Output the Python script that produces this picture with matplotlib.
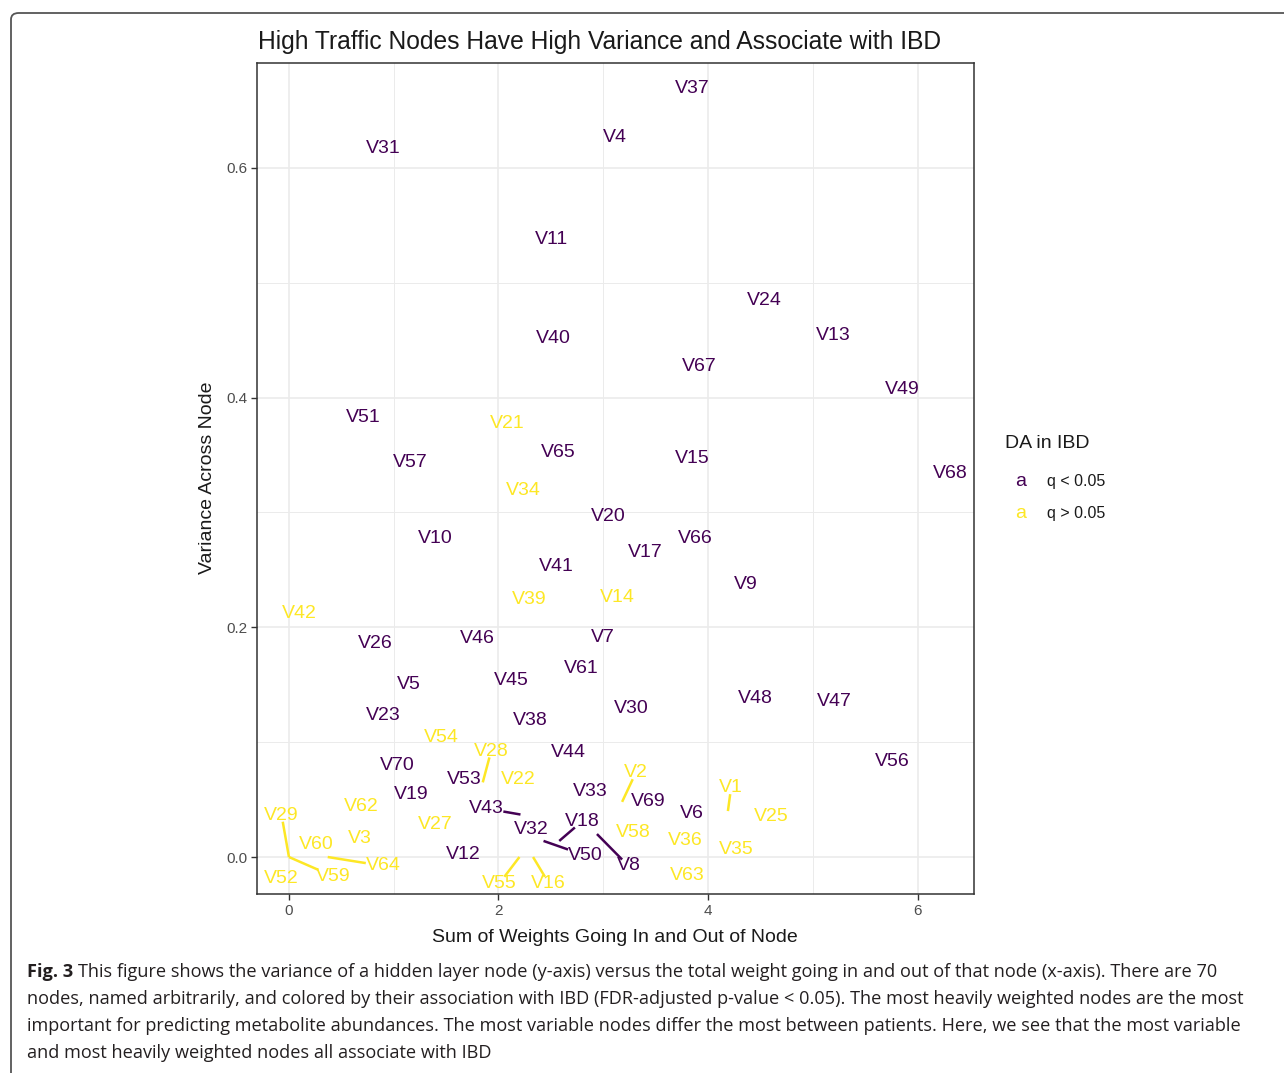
import matplotlib.pyplot as plt
from matplotlib.patches import FancyBboxPatch
from matplotlib.ticker import MultipleLocator

# node labels, label positions (x = summed weight, y = variance), and IBD association
nodes = ["V37", "V4", "V31", "V11", "V24", "V13", "V40", "V67", "V49", "V51",
         "V21", "V65", "V15", "V57", "V68", "V34", "V20", "V10", "V66", "V17",
         "V41", "V9", "V39", "V14", "V42", "V26", "V46", "V7", "V61", "V5",
         "V45", "V48", "V47", "V30", "V23", "V38", "V54", "V28", "V44", "V56",
         "V70", "V22", "V53", "V2", "V1", "V33", "V62", "V69", "V19", "V43",
         "V6", "V25", "V29", "V27", "V18", "V32", "V3", "V58", "V36", "V60",
         "V35", "V12", "V50", "V64", "V8", "V59", "V63", "V52", "V55", "V16"]
weight = [3.85, 3.11, 0.90, 2.51, 4.54, 5.20, 2.52, 3.92, 5.85, 0.71,
          2.08, 2.57, 3.85, 1.16, 6.31, 2.24, 3.05, 1.40, 3.88, 3.40,
          2.55, 4.36, 2.29, 3.13, 0.10, 0.82, 1.80, 3.00, 2.79, 1.14,
          2.12, 4.45, 5.21, 3.27, 0.90, 2.30, 1.45, 1.93, 2.67, 5.76,
          1.03, 2.19, 1.67, 3.31, 4.22, 2.88, 0.69, 3.43, 1.17, 1.88,
          3.85, 4.60, -0.07, 1.40, 2.80, 2.31, 0.68, 3.29, 3.78, 0.26,
          4.27, 1.66, 2.83, 0.90, 3.24, 0.42, 3.80, -0.07, 2.01, 2.48]
variance = [0.671, 0.628, 0.619, 0.539, 0.486, 0.456, 0.453, 0.429, 0.409, 0.384,
            0.379, 0.354, 0.349, 0.345, 0.336, 0.321, 0.298, 0.279, 0.279, 0.267,
            0.255, 0.239, 0.226, 0.228, 0.214, 0.188, 0.192, 0.193, 0.166, 0.152,
            0.155, 0.140, 0.137, 0.131, 0.125, 0.121, 0.106, 0.094, 0.093, 0.085,
            0.081, 0.069, 0.069, 0.075, 0.062, 0.059, 0.046, 0.050, 0.056, 0.044,
            0.040, 0.037, 0.038, 0.030, 0.033, 0.026, 0.018, 0.023, 0.016, 0.013,
            0.008, 0.004, 0.003, -0.006, -0.006, -0.015, -0.014, -0.017, -0.021, -0.021]
not_sig = {"V21", "V34", "V39", "V14", "V42", "V54", "V28", "V22", "V2", "V1",
           "V62", "V25", "V29", "V27", "V3", "V58", "V36", "V60", "V35", "V64",
           "V59", "V63", "V52", "V55", "V16"}

# nodes whose labels were pushed away from the true point (point position)
repel_nodes = ["V29", "V59", "V64", "V28", "V43", "V50", "V18", "V8", "V2", "V1", "V55", "V16"]
repel_x = [0.0, 0.0, 0.37, 1.85, 2.21, 2.43, 2.58, 2.94, 3.18, 4.19, 2.20, 2.33]
repel_y = [0.0, 0.0, 0.0, 0.065, 0.037, 0.014, 0.014, 0.020, 0.048, 0.040, 0.0, 0.0]

PURPLE = "#440154"
YELLOW = "#FDE725"
W, H = 1284, 1073


def fx(px):
    return px / W


def fy(py):
    return 1 - py / H


plt.rcParams["font.family"] = ["Liberation Sans", "DejaVu Sans"]
fig = plt.figure(figsize=(W / 100, H / 100), dpi=100)

# rounded frame around the figure + caption
fig.patches.append(FancyBboxPatch((fx(11), fy(1090)), fx(1300), fy(13) - fy(1090),
                                  boxstyle="round,pad=0,rounding_size=0.006",
                                  transform=fig.transFigure, fill=False,
                                  edgecolor="#555555", linewidth=1.3))

ax = fig.add_axes([fx(257), fy(894), fx(974) - fx(257), fy(63) - fy(894)])
ax.set_xlim(-0.305, 6.539)
ax.set_ylim(-0.0322, 0.6913)
ax.xaxis.set_major_locator(MultipleLocator(2))
ax.xaxis.set_minor_locator(MultipleLocator(1))
ax.yaxis.set_major_locator(MultipleLocator(0.2))
ax.yaxis.set_minor_locator(MultipleLocator(0.1))
ax.set_yticks([0, 0.2, 0.4, 0.6], ["0.0", "0.2", "0.4", "0.6"])
ax.grid(which="major", color="#ebebeb", linewidth=1.2)
ax.grid(which="minor", color="#ebebeb", linewidth=0.7)
ax.set_axisbelow(True)
for s in ax.spines.values():
    s.set_color("#333333")
    s.set_linewidth(1.1)
ax.tick_params(which="major", length=4, width=1, color="#333333",
               labelsize=11, labelcolor="#4d4d4d", pad=3)
ax.tick_params(which="minor", length=0)

texts = {}
for name, x, y in zip(nodes, weight, variance):
    col = YELLOW if name in not_sig else PURPLE
    texts[name] = ax.text(x, y, name, color=col, fontsize=14, ha="center", va="center_baseline")

# segments from each point to the edge of its label (toward the label centre)
fig.canvas.draw()
r = fig.canvas.get_renderer()
inv = ax.transData.inverted()
for name, px, py in zip(repel_nodes, repel_x, repel_y):
    t = texts[name]
    bb = t.get_window_extent(r).expanded(1.0, 0.75)
    x0, y0 = ax.transData.transform((px, py))
    cx, cy = (bb.x0 + bb.x1) / 2, (bb.y0 + bb.y1) / 2
    dx, dy = cx - x0, cy - y0
    # fraction along the ray where it enters the bbox
    ts = []
    for edge in (bb.x0, bb.x1):
        if dx != 0:
            s = (edge - x0) / dx
            yy = y0 + s * dy
            if 0 <= s <= 1 and bb.y0 <= yy <= bb.y1:
                ts.append(s)
    for edge in (bb.y0, bb.y1):
        if dy != 0:
            s = (edge - y0) / dy
            xx = x0 + s * dx
            if 0 <= s <= 1 and bb.x0 <= xx <= bb.x1:
                ts.append(s)
    s = min(ts) if ts else 1
    ex, ey = inv.transform((x0 + s * dx, y0 + s * dy))
    ax.plot([px, ex], [py, ey], color=t.get_color(), linewidth=1.8, solid_capstyle="butt")

fig.text(fx(258), fy(40), "High Traffic Nodes Have High Variance and Associate with IBD",
         fontsize=17.7, ha="left", va="center_baseline", color="#1a1a1a")
fig.text(fx(208), fy(478), "Variance Across Node", rotation=90, fontsize=14,
         ha="center", va="center", color="#1a1a1a")
fig.text(fx(615), fy(935), "Sum of Weights Going In and Out of Node", fontsize=14,
         ha="center", va="center_baseline", color="#1a1a1a")

# legend
fig.text(fx(1005), fy(442), "DA in IBD", fontsize=14, ha="left", va="center_baseline", color="#1a1a1a")
legend_cols = [PURPLE, YELLOW]
legend_labels = ["q < 0.05", "q > 0.05"]
for i, (c, lab) in enumerate(zip(legend_cols, legend_labels)):
    yy = 480 + 32 * i
    fig.text(fx(1021), fy(yy), "a", color=c, fontsize=14, ha="center", va="center_baseline")
    fig.text(fx(1047), fy(yy), lab, fontsize=11.5, ha="left", va="center_baseline", color="#1a1a1a")

# caption
cap_font = ["Open Sans", "DejaVu Sans"]
cap_lines = [
    "This figure shows the variance of a hidden layer node (y-axis) versus the total weight going in and out of that node (x-axis). There are 70",
    "nodes, named arbitrarily, and colored by their association with IBD (FDR-adjusted p-value < 0.05). The most heavily weighted nodes are the most",
    "important for predicting metabolite abundances. The most variable nodes differ the most between patients. Here, we see that the most variable",
    "and most heavily weighted nodes all associate with IBD",
]
cap_size = 13.1
bold = fig.text(fx(27), fy(972), "Fig. 3", fontsize=cap_size, fontweight="bold",
                family=cap_font, ha="left", va="center", color="#231f20")
fig.canvas.draw()
bw = bold.get_window_extent(fig.canvas.get_renderer()).width
for i, line in enumerate(cap_lines):
    x0 = fx(27) + ((bw + 5) / W if i == 0 else 0)
    fig.text(x0, fy(972 + 27 * i), line, fontsize=cap_size, family=cap_font,
             ha="left", va="center", color="#231f20")

fig.savefig("out.png", dpi=100)
